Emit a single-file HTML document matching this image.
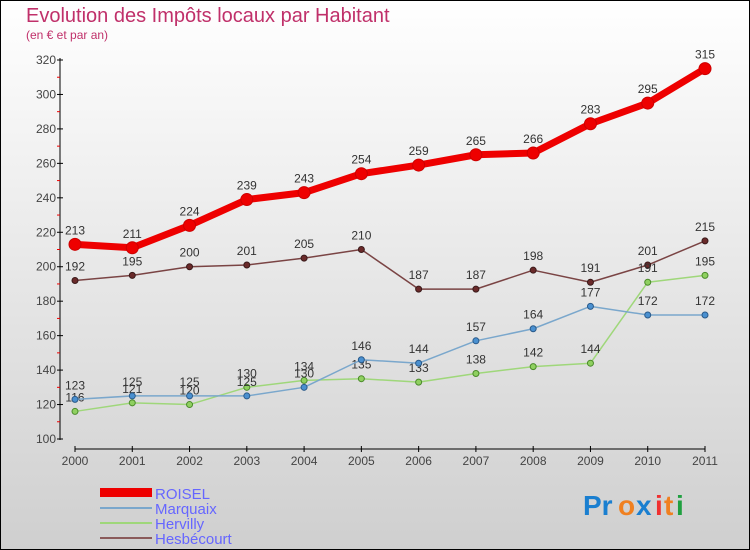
<!DOCTYPE html>
<html><head><meta charset="utf-8"><style>
body{margin:0}
#c{width:750px;height:550px;position:relative;overflow:hidden;font-family:"Liberation Sans",sans-serif}
</style></head><body>
<div id="c">
<svg id="s" width="750" height="550" xmlns="http://www.w3.org/2000/svg">
<defs><linearGradient id="bg" x1="0" y1="0" x2="0" y2="1"><stop offset="0" stop-color="#ffffff"/><stop offset="1" stop-color="#cfcfcf"/></linearGradient></defs>
<rect x="0.5" y="0.5" width="749" height="549" fill="url(#bg)" stroke="#000"/>
<text x="26" y="22" font-size="20" fill="#c0306a">Evolution des Impôts locaux par Habitant</text>
<text x="26" y="39" font-size="12" fill="#c0306a">(en € et par an)</text>
<g id="axes"></g><g id="series"></g>
<g>
<rect x="100" y="488" width="52" height="9" fill="#e00"/>
<text x="155" y="499" font-size="15" fill="#6666ff">ROISEL</text>
<line x1="100" y1="508" x2="152" y2="508" stroke="#7aa7cc" stroke-width="2"/>
<text x="155" y="514" font-size="15" fill="#6666ff">Marquaix</text>
<line x1="100" y1="523" x2="152" y2="523" stroke="#9fd77a" stroke-width="2"/>
<text x="155" y="529" font-size="15" fill="#6666ff">Hervilly</text>
<line x1="100" y1="538" x2="152" y2="538" stroke="#8a5a5a" stroke-width="2"/>
<text x="155" y="544" font-size="15" fill="#6666ff">Hesbécourt</text>
</g>
<g font-size="28" font-weight="bold">
<text x="583" y="515" fill="#1a7fd0">Pr</text><text x="618" y="515" fill="#f08020">o</text><text x="636" y="515" fill="#1a7fd0">x</text><text x="655" y="515" fill="#f03030">i</text><text x="664" y="515" fill="#f08020">t</text><text x="676" y="515" fill="#20a040">i</text>
</g>
</svg>
</div>
<script>
const years=["2000","2001","2002","2003","2004","2005","2006","2007","2008","2009","2010","2011"];
const yTicks=[100,120,140,160,180,200,220,240,260,280,300,320];
const roisel=[213,211,224,239,243,254,259,265,266,283,295,315];
const marquaix=[123,125,125,125,130,146,144,157,164,177,172,172];
const hervilly=[116,121,120,130,134,135,133,138,142,144,191,195];
const hesbecourt=[192,195,200,201,205,210,187,187,198,191,201,215];
const NS="http://www.w3.org/2000/svg";
const x=i=>75+i*(630/11);
const y=v=>60+(320-v)*(379/220);
function mk(t,a,p){const e=document.createElementNS(NS,t);for(const k in a)e.setAttribute(k,a[k]);p.appendChild(e);return e;}
const ax=document.getElementById('axes');
let e=mk('line',{x1:60,y1:58,x2:60,y2:440,stroke:'#000'},ax);


e=mk('line',{x1:75,y1:449,x2:705,y2:449,stroke:'#000'},ax);


yTicks.forEach((v,i)=>{
 mk('line',{x1:57,y1:y(v),x2:63,y2:y(v),stroke:'#000'},ax);
 if(i<yTicks.length-1)mk('line',{x1:57,y1:y(v+10),x2:60,y2:y(v+10),stroke:'#e00'},ax);
 const t=mk('text',{x:56,y:y(v)+4,'text-anchor':'end','font-size':12,fill:'#444'},ax);t.textContent=v;
 
 
});
years.forEach((yr,i)=>{
 mk('line',{x1:x(i),y1:446,x2:x(i),y2:452,stroke:'#000'},ax);
 const t=mk('text',{x:x(i),y:465,'text-anchor':'middle','font-size':12,fill:'#444'},ax);t.textContent=yr;
 
 
});
const sg=document.getElementById('series');
function series(name,vals,color,w,r,fill,dark){
 const g=mk('g',{},sg);
 
 
 const l=mk('polyline',{points:vals.map((v,i)=>x(i)+','+y(v)).join(' '),fill:'none',stroke:color,'stroke-width':w,'stroke-linejoin':'round'},g);
 
 
 vals.forEach((v,i)=>{
  const c=mk('circle',{cx:x(i),cy:y(v),r:r,fill:fill,stroke:dark,'stroke-width':1},g);
  
  
  const t=mk('text',{x:x(i),y:y(v)-10,'text-anchor':'middle','font-size':12,fill:'#333'},g);t.textContent=v;
  
  
 });
}
series('hesbecourt',hesbecourt,'#7a4444',1.5,3,'#6a2a2a','#3a1a1a');
series('hervilly',hervilly,'#9fd77a',1.5,3,'#8fd060','#4a8a2a');
series('marquaix',marquaix,'#7aa7cc',1.5,3,'#4a90d0','#2a5a8a');
series('roisel',roisel,'#ee0000',7,6,'#ee0000','#cc0000');
</script>
</body></html>
